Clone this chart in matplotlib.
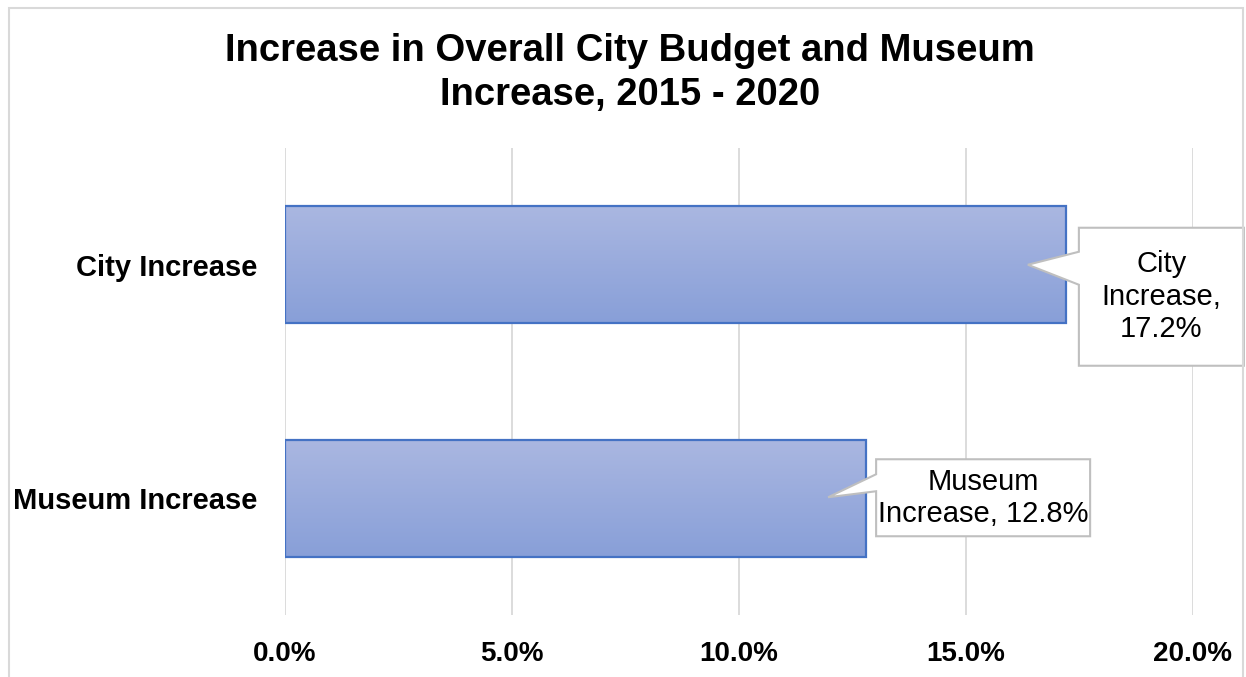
import numpy as np
import matplotlib
matplotlib.use('Agg')
import matplotlib.pyplot as plt
from matplotlib.patches import Rectangle, Polygon
from matplotlib.colors import LinearSegmentedColormap

plt.rcParams['font.family'] = ['Liberation Sans', 'DejaVu Sans']

categories = ["City Increase", "Museum Increase"]
values = [17.2, 12.8]
callout_texts = ["City\nIncrease,\n17.2%", "Museum\nIncrease, 12.8%"]
xticks = [0, 5, 10, 15, 20]
xtick_labels = ["0.0%", "5.0%", "10.0%", "15.0%", "20.0%"]
title = "Increase in Overall City Budget and Museum\nIncrease, 2015 - 2020"

fig = plt.figure(figsize=(12.46, 6.77), dpi=100)
# outer chart frame
fig.patches.append(Rectangle((9 / 1246, -0.1), 1234 / 1246, 1.1 - 8 / 677,
                             transform=fig.transFigure, fill=False,
                             ec='#D9D9D9', lw=1.5))

ax = fig.add_axes([285 / 1246, 1 - 615 / 677, 908 / 1246, 467 / 677])
for s in ax.spines.values():
    s.set_visible(False)
ax.set_xticks(xticks)
ax.set_xticklabels(xtick_labels, fontsize=20, fontweight='bold')
ax.set_yticks(range(len(categories)))
ax.set_yticklabels(categories, fontsize=21, fontweight='bold')
ax.tick_params(length=0, pad=20)
ax.tick_params(axis='x', pad=19)
ax.grid(axis='x', color='#D9D9D9', lw=1.3)
ax.set_axisbelow(True)

cmap = LinearSegmentedColormap.from_list('g', ['#AAB7E1', '#889FD8'])
grad = np.linspace(0, 1, 256).reshape(-1, 1)
bars = ax.barh(range(len(categories)), values, height=0.5,
               color='none', edgecolor='#4472C4', lw=1.6, zorder=3)
for b in bars:
    x0, y0, w, h = b.get_x(), b.get_y(), b.get_width(), b.get_height()
    ax.imshow(grad, cmap=cmap, aspect='auto', zorder=2,
              extent=(x0, x0 + w, y0 + h, y0), origin='upper')
ax.set_xlim(0, 20)
ax.set_ylim(len(categories) - 0.5, -0.5)

fig.text(630 / 1246, 1 - 73 / 677, title, fontsize=27.5, fontweight='bold',
         ha='center', va='center', linespacing=1.32)

# callouts: offsets in pixels relative to bar end (image y down)
callout_geom = [
    dict(tip=(-38, 0), box=(13, 178, -37, 101), base=(-13, 20)),
    dict(tip=(-38, -1), box=(10, 224, -39, 38), base=(-24, -7)),
]
inv = ax.transData.inverted()
for i, (v, txt, g) in enumerate(zip(values, callout_texts, callout_geom)):
    px, py = ax.transData.transform((v, i))

    def pt(dx, dy):
        return inv.transform((px + dx, py - dy))

    bx0, bx1, by0, by1 = g['box']
    pts = [pt(bx0, by0), pt(bx1, by0), pt(bx1, by1), pt(bx0, by1),
           pt(bx0, g['base'][1]), pt(*g['tip']), pt(bx0, g['base'][0])]
    ax.add_patch(Polygon(pts, closed=True, fc='white', ec='#BFBFBF',
                         lw=1.5, zorder=5, clip_on=False))
    cx, cy = pt((bx0 + bx1) / 2, (by0 + by1) / 2)
    ax.text(cx, cy, txt, ha='center', va='center', fontsize=21,
            linespacing=1.2, zorder=6, clip_on=False)

fig.savefig("out.png", dpi=100)
